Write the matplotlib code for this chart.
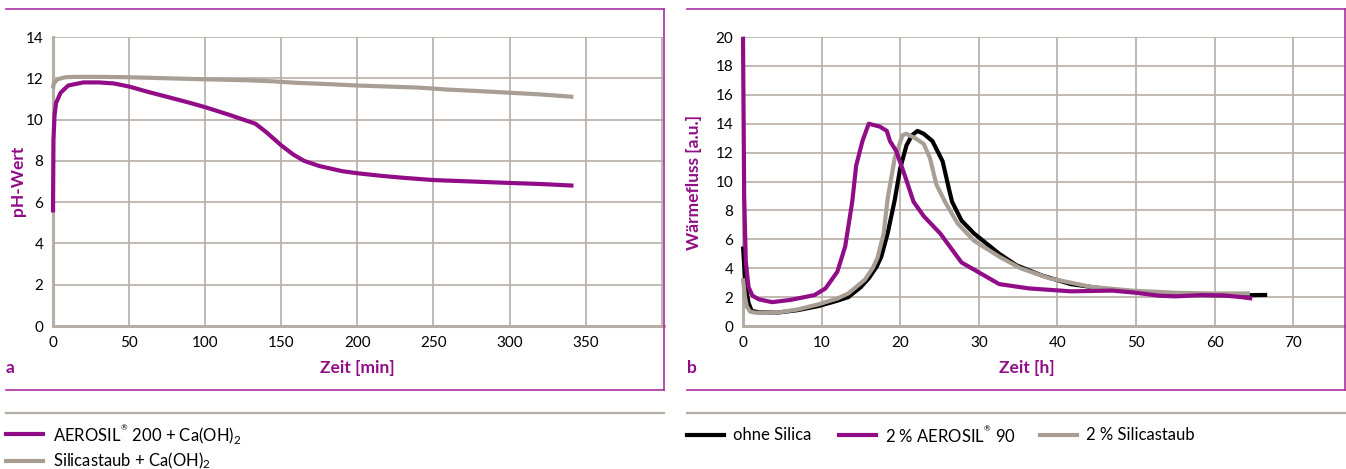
import matplotlib
matplotlib.use("Agg")
import matplotlib.pyplot as plt
from matplotlib.lines import Line2D

# panel a: pH value over time [min]
ph_t_aerosil = [0, 0.3, 1, 2, 5, 10, 20, 30, 40, 50, 62, 75, 88, 100, 115, 125,
                133, 140, 150, 158, 165, 175, 190, 200, 215, 230, 250, 275, 300,
                320, 342]
ph_aerosil = [5.5, 9.0, 10.2, 10.8, 11.3, 11.65, 11.8, 11.8, 11.75, 11.6, 11.35,
              11.1, 10.85, 10.6, 10.25, 10.0, 9.8, 9.4, 8.75, 8.3, 8.0, 7.75,
              7.5, 7.4, 7.28, 7.18, 7.07, 7.0, 6.93, 6.88, 6.8]
ph_t_staub = [0, 0.5, 3, 8, 15, 30, 50, 75, 100, 130, 145, 160, 180, 200, 220,
              240, 260, 280, 300, 320, 342]
ph_staub = [11.5, 11.75, 11.95, 12.05, 12.07, 12.07, 12.05, 12.0, 11.95, 11.9,
            11.85, 11.78, 11.72, 11.65, 11.6, 11.55, 11.45, 11.38, 11.3, 11.22,
            11.1]

# panel b: heat flow over time [h]
hf_t_ohne = [0, 0.3, 0.7, 1.1, 2, 4.3, 7, 9.6, 12, 13.4, 15, 16, 17, 17.6, 18.4,
             19.3, 20, 20.8, 21.5, 22.2, 23, 24.1, 25.4, 26.2, 26.6, 27.8, 29.4,
             31, 32.6, 34.8, 38, 41.7, 47, 52.4, 57.8, 62, 66.7]
hf_ohne = [5.5, 3.0, 1.6, 1.05, 0.95, 0.92, 1.1, 1.38, 1.75, 2.0, 2.7, 3.3, 4.1,
           4.8, 6.4, 8.7, 10.9, 12.5, 13.2, 13.5, 13.3, 12.8, 11.4, 9.5, 8.6,
           7.3, 6.4, 5.7, 5.0, 4.2, 3.5, 2.9, 2.5, 2.25, 2.14, 2.12, 2.15]
hf_t_aerosil = [0, 0.15, 0.35, 0.7, 1.2, 2, 3.7, 6, 9.1, 10.5, 12, 13, 13.9,
                14.4, 15.2, 16, 17.4, 18.3, 18.7, 19.5, 20.6, 21.7, 23, 25.1,
                27.8, 29.4, 32.6, 36.4, 41.7, 47, 50, 52.9, 55, 58.3, 61, 63.4,
                64.8]
hf_aerosil = [20, 9.0, 4.5, 2.7, 2.1, 1.85, 1.65, 1.8, 2.14, 2.6, 3.75, 5.5,
              8.6, 11.1, 12.8, 14.0, 13.8, 13.5, 12.8, 12.1, 10.4, 8.6, 7.6, 6.4,
              4.4, 3.9, 2.9, 2.6, 2.4, 2.45, 2.3, 2.1, 2.05, 2.14, 2.12, 2.0,
              1.9]
hf_t_staub = [0, 0.25, 0.5, 0.9, 1.6, 4.3, 7, 9.6, 12, 13.4, 15.5, 16.5, 17.1,
              17.9, 18.4, 19.3, 20.3, 20.8, 21.9, 23, 23.8, 24.6, 25.7, 27.3,
              29.4, 32.6, 35.3, 39, 44.4, 49.7, 55, 60, 64.5]
hf_staub = [3.3, 2.0, 1.33, 1.0, 0.92, 0.92, 1.15, 1.5, 1.9, 2.25, 3.2, 4.0, 4.7,
            6.4, 8.8, 11.6, 13.2, 13.3, 13.0, 12.6, 11.6, 9.8, 8.6, 7.1, 5.9,
            4.8, 4.0, 3.3, 2.7, 2.44, 2.3, 2.25, 2.25]

PURPLE = "#910d87"
GRAY = "#a89e94"
BLACK = "#000000"
GRID = "#b6ada4"
FRAME = "#a8309f"

W, H = 1346, 469
plt.rcParams["font.family"] = ["Lato", "DejaVu Sans"]
plt.rcParams["mathtext.fontset"] = "custom"
plt.rcParams["mathtext.rm"] = "Lato"
plt.rcParams["mathtext.it"] = "Lato:italic"
plt.rcParams["mathtext.bf"] = "Lato:bold"

fig = plt.figure(figsize=(W / 100, H / 100), dpi=100)


def fx(px):
    return px / W


def fy(py):
    return 1 - py / H


def hline(x0, x1, y, color, lw=1.2):
    fig.add_artist(Line2D([fx(x0), fx(x1)], [fy(y), fy(y)], color=color,
                          lw=lw, transform=fig.transFigure))


def vline(x, y0, y1, color, lw=1.2):
    fig.add_artist(Line2D([fx(x), fx(x)], [fy(y0), fy(y1)], color=color,
                          lw=lw, transform=fig.transFigure))


def style_axes(ax):
    ax.grid(True, color=GRID, lw=1.2)
    ax.set_axisbelow(True)
    for s in ("top", "right"):
        ax.spines[s].set_visible(False)
    for s in ("left", "bottom"):
        ax.spines[s].set_color(GRID)
        ax.spines[s].set_linewidth(2.2)
    ax.tick_params(length=0, labelsize=11, pad=7)


line_kw = dict(lw=3, solid_capstyle="butt", zorder=3, clip_on=False)

# panel a
ax1 = fig.add_axes([fx(53), fy(326), fx(664 - 53), (326 - 37) / H])
ax1.plot(ph_t_staub, ph_staub, color=GRAY, **line_kw)
ax1.plot(ph_t_aerosil, ph_aerosil, color=PURPLE, **line_kw)
ax1.set_xlim(0, 401.5)
ax1.set_ylim(0, 14)
ax1.set_xticks(range(0, 401, 50))
ax1.set_xticklabels([str(v) for v in range(0, 351, 50)] + [""])
ax1.set_yticks(range(0, 15, 2))
style_axes(ax1)

# panel b
ax2 = fig.add_axes([fx(743), fy(326), fx(1345 - 743), (326 - 37) / H])
ax2.plot(hf_t_ohne, hf_ohne, color=BLACK, **line_kw)
ax2.plot(hf_t_staub, hf_staub, color=GRAY, **line_kw)
ax2.plot(hf_t_aerosil, hf_aerosil, color=PURPLE, **line_kw)
ax2.set_xlim(0, 76.6)
ax2.set_ylim(0, 20)
ax2.set_xticks(range(0, 71, 10))
ax2.set_yticks(range(0, 21, 2))
style_axes(ax2)

# axis labels and panel letters
lab = dict(color=PURPLE, fontweight="bold", fontsize=12.5)
fig.text(fx(357), fy(368), "Zeit [min]", ha="center", va="center", **lab)
fig.text(fx(1027), fy(368), "Zeit [h]", ha="center", va="center", **lab)
fig.text(fx(18), fy(181), "pH-Wert", ha="center", va="center",
         rotation=90, **lab)
fig.text(fx(694), fy(183), "Wärmefluss [a.u.]", ha="center", va="center",
         rotation=90, **lab)
fig.text(fx(10), fy(368), "a", ha="center", va="center", **lab)
fig.text(fx(692), fy(368), "b", ha="center", va="center", **lab)

# frames
for x0, x1 in ((6, 664), (687, 1346)):
    hline(x0, x1, 9, FRAME)
    hline(x0, x1, 390, FRAME)
    hline(x0, x1, 413, GRID, lw=1.6)
vline(664, 9, 390, FRAME)
vline(1345, 9, 390, FRAME)

# legends
legend_a = [(PURPLE, r"AEROSIL$^{{}^{®}}$ 200 + Ca(OH)$_2$", 434),
            (GRAY, r"Silicastaub + Ca(OH)$_2$", 461)]
for color, text, y in legend_a:
    hline(6, 43, y, color, lw=3)
    fig.text(fx(53), fy(y), text, ha="left", va="center", fontsize=12)

legend_b = [(BLACK, "ohne Silica", 687),
            (PURPLE, r"2 % AEROSIL$^{{}^{®}}$ 90", 839),
            (GRAY, "2 % Silicastaub", 1040)]
for color, text, x in legend_b:
    hline(x, x + 37, 435, color, lw=3)
    fig.text(fx(x + 46), fy(435), text, ha="left", va="center", fontsize=12)

fig.savefig("out.png", dpi=100)
